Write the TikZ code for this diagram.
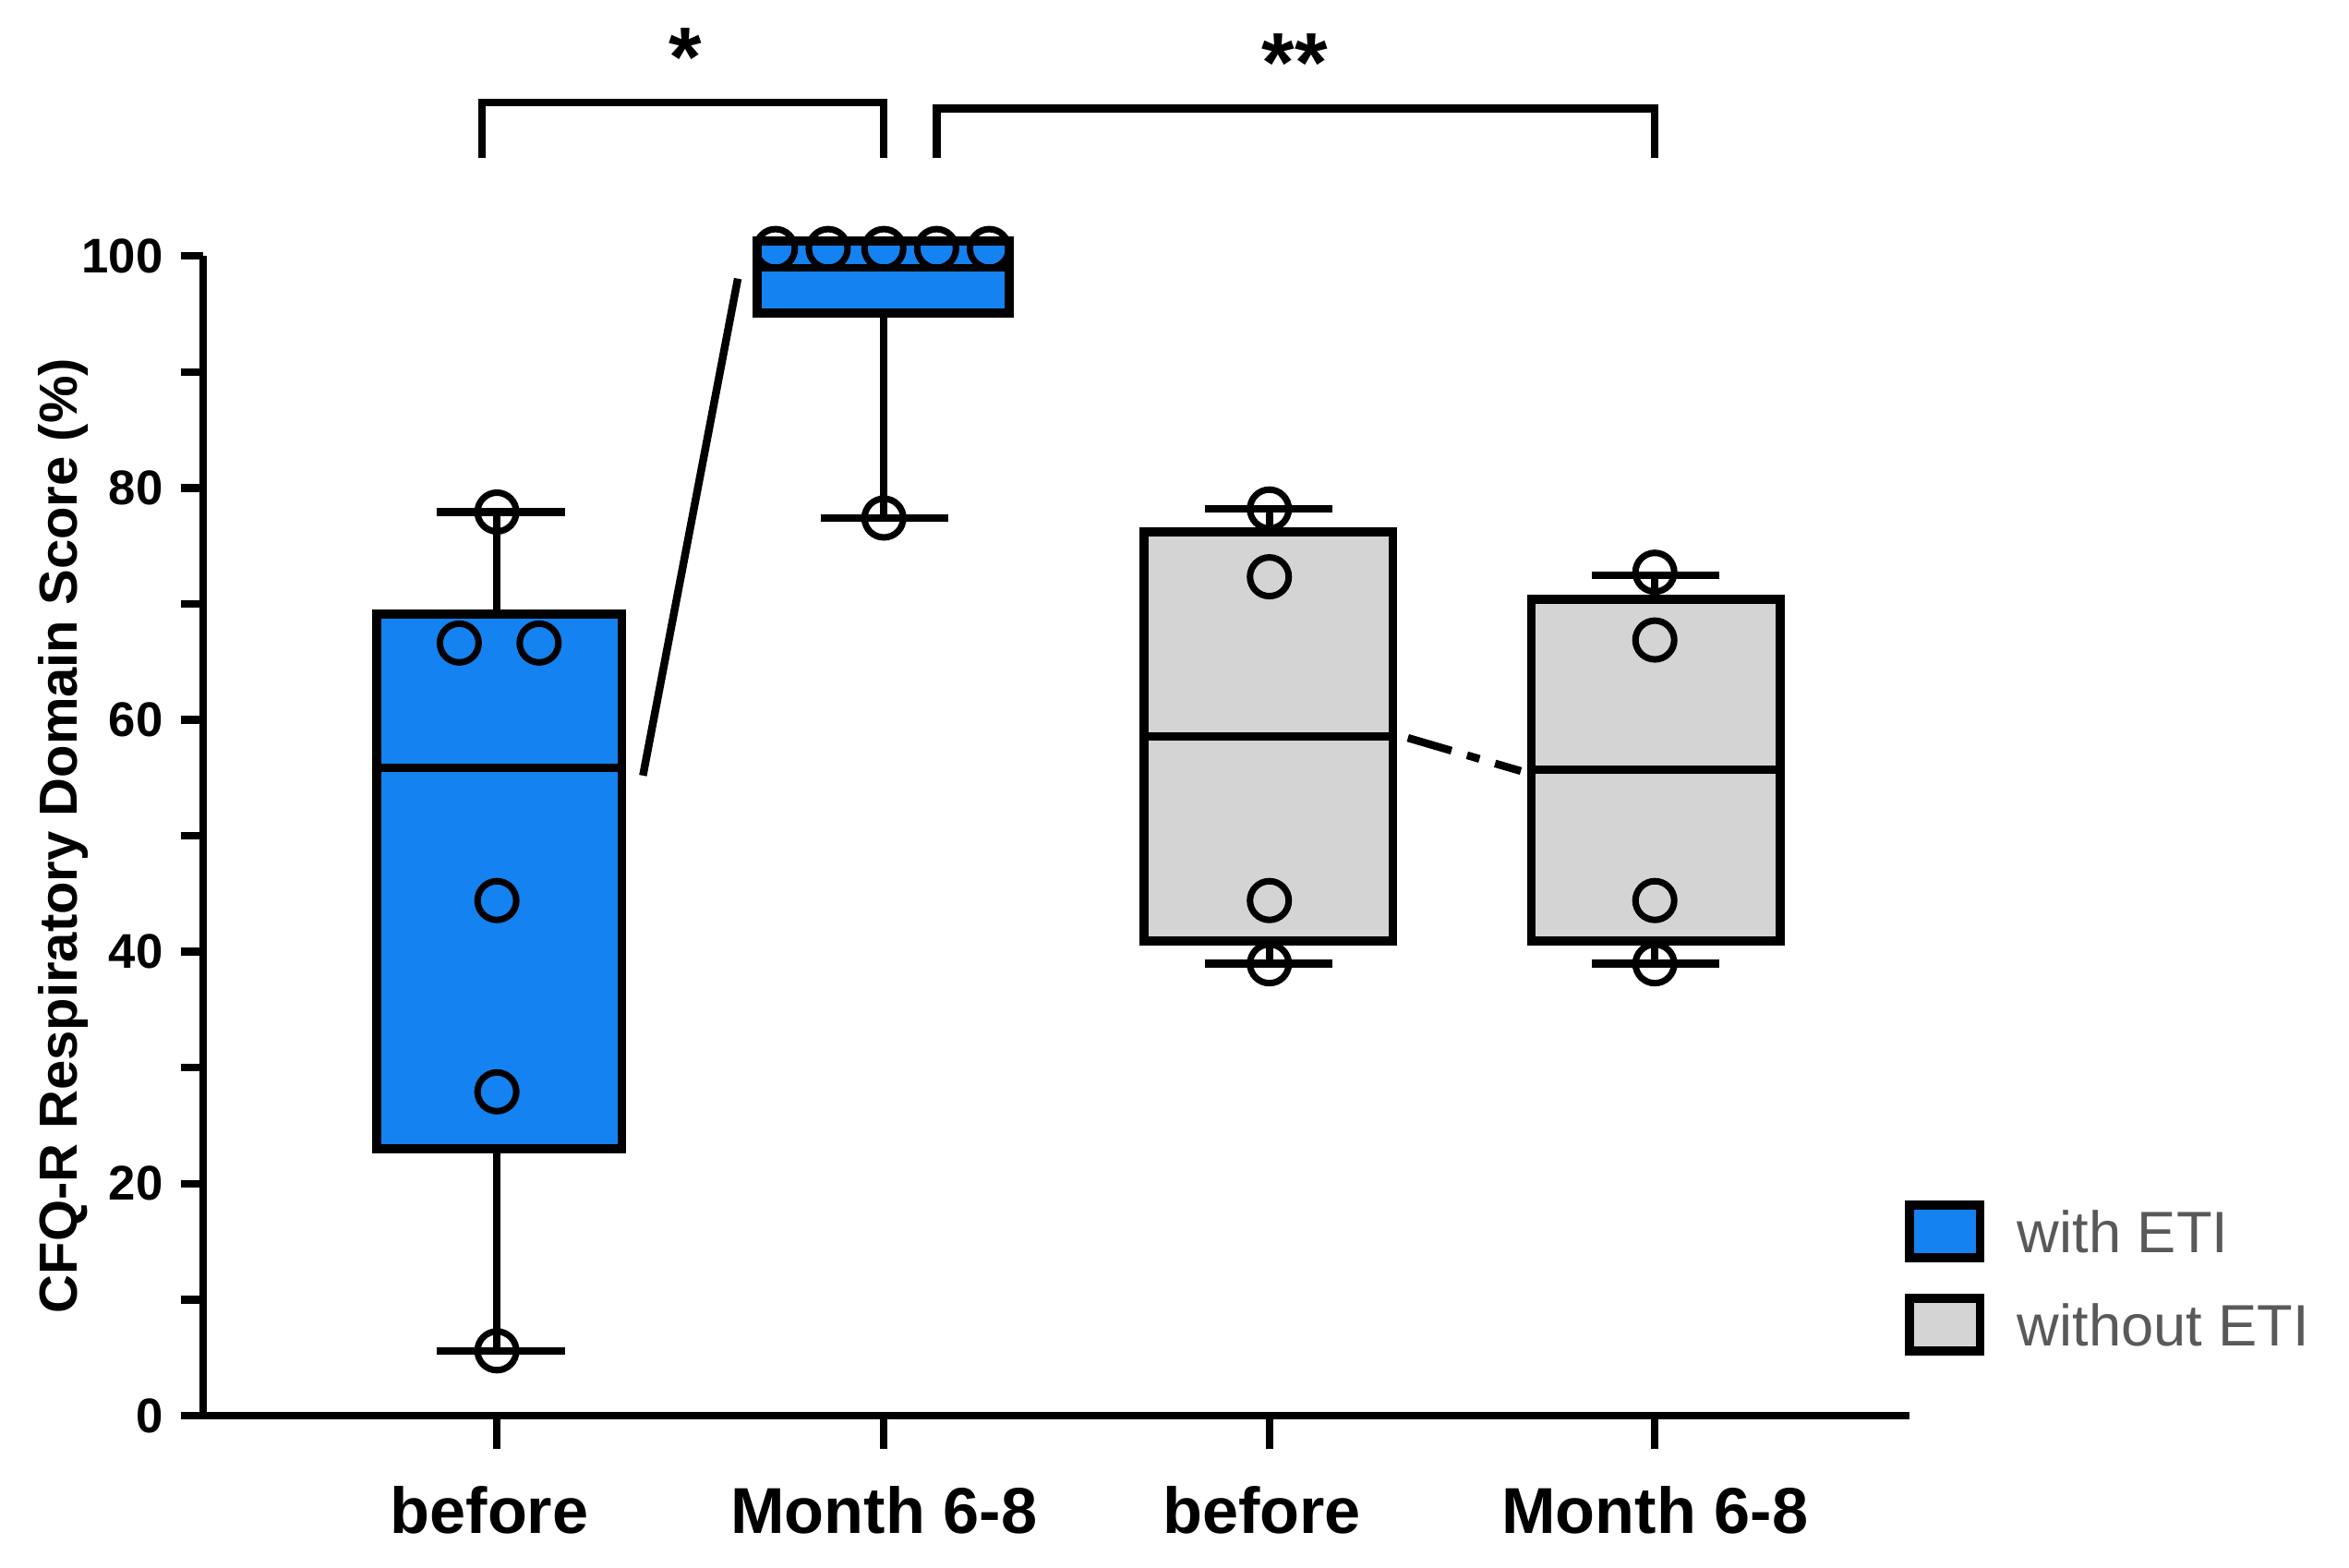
\documentclass[tikz,border=0pt]{standalone}
\usepackage{fontspec}
\setmainfont{Liberation Sans}
\definecolor{eti}{RGB}{20,130,240}
\definecolor{noeti}{RGB}{212,212,212}
\begin{document}
\begin{tikzpicture}[x=0.01631cm,y=-0.01631cm,line width=2.4pt,
  pt/.style={circle,draw,line width=2pt,minimum size=0.42cm,inner sep=0pt},
  bx/.style={draw,line width=2.8pt},
  tl/.style={anchor=east,font=\bfseries\fontsize{15}{18}\selectfont},
  xl/.style={font=\bfseries\fontsize{20}{24}\selectfont},
  lg/.style={anchor=west,font=\fontsize{18}{22}\selectfont,text=black!65}]
\useasboundingbox (0,0) rectangle (1560,1041);
% axes
\draw (135,170) -- (135,940) -- (1268,940);
\foreach \v in {0,10,...,100}{\draw (120,{940-7.7*\v}) -- (135,{940-7.7*\v});}
\foreach \v in {0,20,...,100}{\node[tl] at (118,{940-7.7*\v}) {\v};}
\foreach \x in {330,587,843,1099}{\draw (\x,940) -- (\x,962);}
\node[xl] at (325,1003) {before};
\node[xl] at (587,1003) {Month 6-8};
\node[xl] at (838,1003) {before};
\node[xl] at (1099,1003) {Month 6-8};
\node[rotate=90,font=\bfseries\fontsize{16.5}{20}\selectfont] at (42,555) {CFQ-R Respiratory Domain Score (\%)};
% box 1
\draw (330,897) -- (330,340); \draw (290,340)--(375,340); \draw (290,897)--(375,897);
\draw[bx,fill=eti] (250,408) rectangle (413,763);
\draw (250,510)--(413,510);
\foreach \x/\y in {330/340,305/427,358/427,330/598,330/725,330/897}{\node[pt] at (\x,\y){};}
% box 2
\draw (587,208)--(587,344); \draw (545,344)--(630,344);
\draw[bx,fill=eti] (503,160) rectangle (670,208);
\draw (503,178)--(670,178);
\node[pt] at (587,344){};
\foreach \x in {515,550,587,622,657}{\node[pt] at (\x,165){};}
\draw (427,515) -- (490,185);
% box 3
\draw (843,338)--(843,640); \draw (800,338)--(885,338); \draw (800,640)--(885,640);
\draw[bx,fill=noeti] (760,353) rectangle (925,625);
\draw (760,489)--(925,489);
\foreach \y in {338,383,598,640}{\node[pt] at (843,\y){};}
% box 4
\draw (1099,382)--(1099,640); \draw (1057,382)--(1142,382); \draw (1057,640)--(1142,640);
\draw[bx,fill=noeti] (1017,398) rectangle (1182,625);
\draw (1017,511)--(1182,511);
\foreach \y in {380,425,598,640}{\node[pt] at (1099,\y){};}
\draw[dash pattern=on 14pt off 5pt on 4pt off 5pt] (935,490) -- (1010,512);
% brackets
\draw (320,105)--(320,68)--(587,68)--(587,105);
\node[font=\bfseries\fontsize{26}{28}\selectfont] at (455,38) {*};
\draw (622,105)--(622,72)--(1099,72)--(1099,105);
\node[font=\bfseries\fontsize{26}{28}\selectfont] at (860,42) {**};
% legend
\draw[bx,fill=eti] (1268,800) rectangle (1315,835);
\draw[bx,fill=noeti] (1268,862) rectangle (1315,897);
\node[lg] at (1330,818) {with ETI};
\node[lg] at (1330,880) {without ETI};
\end{tikzpicture}
\end{document}
